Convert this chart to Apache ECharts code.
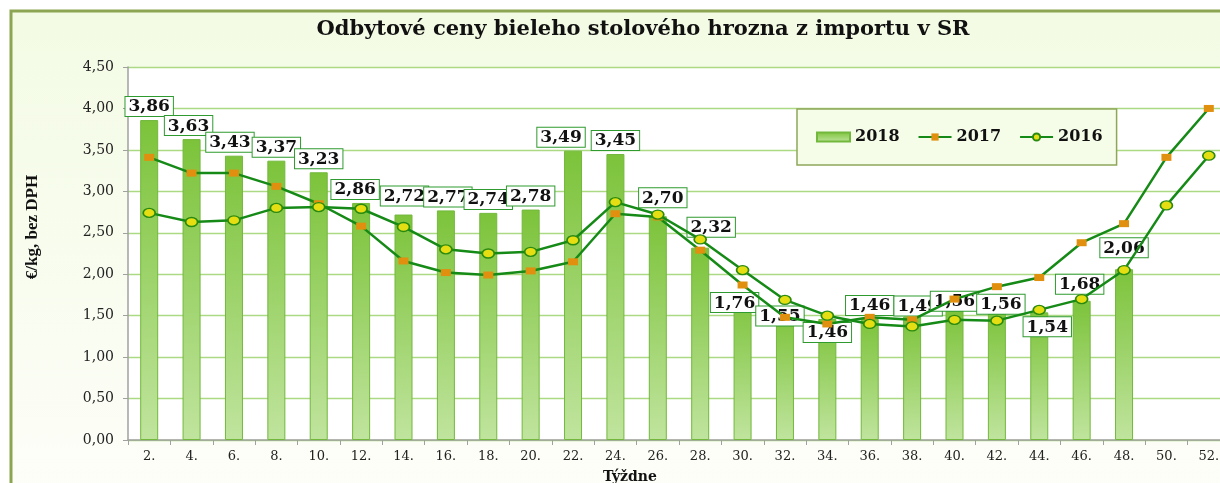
<!DOCTYPE html>
<html>
<head>
<meta charset="utf-8">
<script src="https://cdn.jsdelivr.net/npm/echarts@6/dist/echarts.min.js"></script>
<style>
  html, body { margin: 0; padding: 0; background: #fff; }
  #chart { width: 1220px; height: 483px; }
</style>
</head>
<body>
<div id="chart"></div>
<script>
// týždne
const weeks = ['2.', '4.', '6.', '8.', '10.', '12.', '14.', '16.', '18.', '20.', '22.', '24.', '26.',
  '28.', '30.', '32.', '34.', '36.', '38.', '40.', '42.', '44.', '46.', '48.', '50.', '52.'];

// €/kg bez DPH
const s2018 = [3.86, 3.63, 3.43, 3.37, 3.23, 2.86, 2.72, 2.77, 2.74, 2.78, 3.49, 3.45, 2.70,
  2.32, 1.76, 1.55, 1.46, 1.46, 1.49, 1.56, 1.56, 1.54, 1.68, 2.06, null, null];
const s2017 = [3.41, 3.22, 3.22, 3.06, 2.85, 2.58, 2.16, 2.02, 1.99, 2.04, 2.15, 2.73, 2.69,
  2.29, 1.87, 1.48, 1.40, 1.48, 1.45, 1.70, 1.85, 1.96, 2.38, 2.61, 3.41, 4.00];
const s2016 = [2.74, 2.63, 2.65, 2.80, 2.81, 2.79, 2.57, 2.30, 2.25, 2.27, 2.41, 2.87, 2.72,
  2.42, 2.05, 1.69, 1.50, 1.40, 1.37, 1.45, 1.44, 1.57, 1.70, 2.05, 2.83, 3.43];

// posun popisiek stĺpcov (ručne umiestnené ako v Exceli)
const labelShift = [[0, 0], [-3, 0], [-4, 0], [0, 0], [0, 0], [-6, 0], [1, -5], [2, 0], [0, 0],
  [0, 0], [-12, 0], [0, 0], [5, -5], [11, -7], [-8, 22], [-5, 18], [0, 27], [0, 0], [6, 3],
  [0, 4], [4, 7], [8, 28], [-2, -3], [0, -8], [0, 0], [0, 0]];

const fmt = v => v.toFixed(2).replace('.', ',');
const serif = 'DejaVu Serif';
const lineGreen = '#168a16';

const chart = echarts.init(document.getElementById('chart'));

const option = {
  animation: false,
  graphic: [
    {
      type: 'rect',
      z: -10,
      silent: true,
      shape: { x: 11, y: 11, width: 1300, height: 520 },
      style: {
        fill: new echarts.graphic.LinearGradient(0, 0, 0, 1, [
          { offset: 0, color: '#f3fbe4' },
          { offset: 1, color: '#fefefa' }
        ]),
        stroke: '#8ba553',
        lineWidth: 3
      }
    },
    {
      type: 'text',
      x: 643, y: 30,
      style: {
        text: 'Odbytové ceny bieleho stolového hrozna z importu v SR',
        font: 'bold 21px "DejaVu Serif"',
        fill: '#111',
        align: 'center',
        verticalAlign: 'middle'
      }
    },
    {
      type: 'text',
      x: 33, y: 227,
      rotation: Math.PI / 2,
      style: {
        text: '€/kg, bez DPH',
        font: 'bold 17px "Liberation Serif"',
        fill: '#111',
        align: 'center',
        verticalAlign: 'middle'
      }
    }
  ],
  legend: {
    left: 797,
    top: 109,
    padding: [20, 14, 20, 19],
    itemGap: 18,
    itemWidth: 33,
    itemHeight: 9,
    backgroundColor: '#f5fce8',
    borderColor: '#8fa659',
    borderWidth: 1.5,
    textStyle: { fontFamily: serif, fontWeight: 'bold', fontSize: 16, color: '#111' },
    data: [{ name: '2018', icon: 'rect' }, '2017', '2016']
  },
  grid: {
    left: 128,
    top: 67,
    width: 1102,
    height: 373,
    containLabel: false,
    outerBoundsMode: 'none',
    show: true,
    backgroundColor: '#fff',
    borderWidth: 0
  },
  xAxis: {
    type: 'category',
    data: weeks,
    name: 'Týždne',
    nameLocation: 'middle',
    nameGap: 30,
    nameTextStyle: {
      fontFamily: serif, fontWeight: 'bold', fontSize: 14, color: '#111',
      padding: [0, 98, 0, 0]
    },
    axisLine: { lineStyle: { color: '#a0a0a0', width: 1.5 } },
    axisTick: { show: true, length: 5, lineStyle: { color: '#a0a0a0' } },
    axisLabel: { interval: 0, margin: 10, fontFamily: serif, fontSize: 13, color: '#222' }
  },
  yAxis: {
    type: 'value',
    min: 0,
    max: 4.5,
    interval: 0.5,
    axisLine: { show: true, lineStyle: { color: '#a0a0a0', width: 1.5 } },
    axisTick: { show: true, length: 5, lineStyle: { color: '#a0a0a0' } },
    axisLabel: { margin: 14, fontFamily: serif, fontSize: 14, color: '#222', formatter: fmt },
    splitLine: { lineStyle: { color: '#acda84', width: 1.3 } }
  },
  series: [
    {
      name: '2018',
      type: 'bar',
      z: 2,
      barWidth: 18,
      itemStyle: {
        color: new echarts.graphic.LinearGradient(0, 0, 0, 1, [
          { offset: 0, color: '#7cc33a' },
          { offset: 1, color: '#c0e49e' }
        ]),
        borderColor: '#72b83c',
        borderWidth: 1
      },
      label: {
        show: true,
        position: 'top',
        distance: 4,
        formatter: p => fmt(p.value),
        fontFamily: serif,
        fontWeight: 'bold',
        fontSize: 17,
        lineHeight: 18,
        color: '#111',
        backgroundColor: '#fff',
        borderColor: '#2f9a2f',
        borderWidth: 1,
        padding: [1, 3, 0, 3]
      },
      data: s2018.map((v, i) => v == null ? null : {
        value: v,
        label: { offset: labelShift[i] }
      })
    },
    {
      name: '2017',
      type: 'line',
      z: 3,
      symbol: 'rect',
      symbolSize: [10, 7],
      lineStyle: { color: lineGreen, width: 2.5 },
      itemStyle: { color: '#e0900e', borderWidth: 0 },
      data: s2017
    },
    {
      name: '2016',
      type: 'line',
      z: 4,
      symbol: 'circle',
      symbolSize: [12, 9],
      lineStyle: { color: lineGreen, width: 2.5 },
      itemStyle: { color: '#e4de12', borderColor: '#2a8a10', borderWidth: 1.5 },
      data: s2016
    }
  ]
};

chart.setOption(option);
</script>
</body>
</html>
